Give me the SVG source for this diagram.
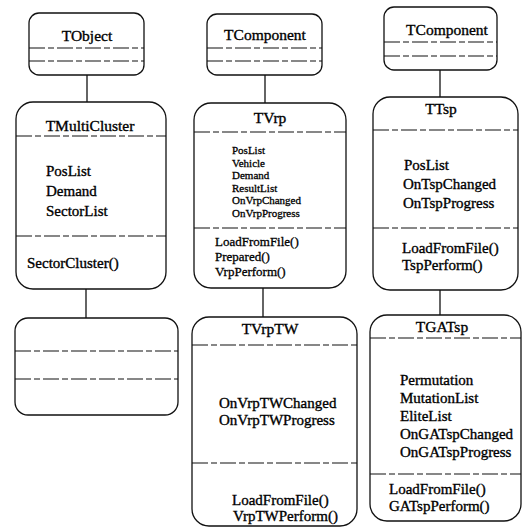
<svg xmlns="http://www.w3.org/2000/svg" width="527" height="529" viewBox="0 0 527 529">
  <style>
    .box { fill: #fff; stroke: #111; stroke-width: 1.3; }
    .sep { stroke: #111; stroke-width: 1.2; stroke-dasharray: 16 3 6 3; fill: none; }
    .link { stroke: #111; stroke-width: 1.3; fill: none; }
    text { font-family: "Liberation Serif", "Times New Roman", serif; fill: #000; stroke: #000; stroke-width: 0.35; }
    .title { font-size: 15.5px; text-anchor: middle; }
    .m { font-size: 15px; }
    .s { font-size: 11px; stroke-width: 0.3; }
    .f { font-size: 13px; stroke-width: 0.3; }
  </style>
  <rect width="527" height="529" fill="#fff"/>

  <!-- inheritance links -->
  <g id="connectors">
    <line class="link" x1="87" y1="75" x2="87" y2="102"/>
    <line class="link" x1="86" y1="289" x2="86" y2="318"/>
    <line class="link" x1="265" y1="75" x2="265" y2="103"/>
    <line class="link" x1="263" y1="288" x2="263" y2="317"/>
    <line class="link" x1="440" y1="70" x2="440" y2="97"/>
    <line class="link" x1="440" y1="290" x2="440" y2="315"/>
  </g>

  <!-- left column -->
  <g id="TObject">
    <rect class="box" x="29" y="13" width="115" height="62" rx="10"/>
    <line class="sep" x1="29" y1="48" x2="144" y2="48"/>
    <line class="sep" x1="29" y1="61" x2="144" y2="61"/>
    <text class="title" x="87" y="41">TObject</text>
  </g>

  <g id="TMultiCluster">
    <rect class="box" x="16" y="102" width="150" height="187" rx="17"/>
    <line class="sep" x1="16" y1="136" x2="166" y2="136"/>
    <line class="sep" x1="16" y1="236" x2="166" y2="236"/>
    <text class="title" x="90" y="131">TMultiCluster</text>
    <text class="m" x="46" y="176">PosList</text>
    <text class="m" x="46" y="196">Demand</text>
    <text class="m" x="46" y="216">SectorList</text>
    <text class="m" x="27" y="268">SectorCluster()</text>
  </g>

  <g id="TDerivedCluster">
    <rect class="box" x="15" y="318" width="163" height="97" rx="13"/>
    <line class="sep" x1="15" y1="351" x2="178" y2="351"/>
    <line class="sep" x1="15" y1="379" x2="178" y2="379"/>
  </g>

  <!-- middle column -->
  <g id="TComponent1">
    <rect class="box" x="207" y="14" width="115" height="61" rx="10"/>
    <line class="sep" x1="207" y1="48" x2="322" y2="48"/>
    <line class="sep" x1="207" y1="61" x2="322" y2="61"/>
    <text class="title" x="265" y="40">TComponent</text>
  </g>

  <g id="TVrp">
    <rect class="box" x="194" y="103" width="152" height="185" rx="17"/>
    <line class="sep" x1="194" y1="132" x2="346" y2="132"/>
    <line class="sep" x1="194" y1="228" x2="346" y2="228"/>
    <text class="title" x="270" y="123">TVrp</text>
    <text class="s" x="232" y="154">PosList</text>
    <text class="s" x="232" y="167">Vehicle</text>
    <text class="s" x="232" y="179">Demand</text>
    <text class="s" x="232" y="192">ResultList</text>
    <text class="s" x="232" y="204">OnVrpChanged</text>
    <text class="s" x="232" y="217">OnVrpProgress</text>
    <text class="f" x="215" y="246">LoadFromFile()</text>
    <text class="f" x="215" y="261">Prepared()</text>
    <text class="f" x="215" y="276">VrpPerform()</text>
  </g>

  <g id="TVrpTW">
    <rect class="box" x="192" y="317" width="165" height="209" rx="17"/>
    <line class="sep" x1="192" y1="345" x2="357" y2="345"/>
    <line class="sep" x1="192" y1="463" x2="357" y2="463"/>
    <text class="title" x="270" y="334">TVrpTW</text>
    <text class="m" x="219" y="408">OnVrpTWChanged</text>
    <text class="m" x="219" y="425">OnVrpTWProgress</text>
    <text class="m" x="232" y="505">LoadFromFile()</text>
    <text class="m" x="233" y="521">VrpTWPerform()</text>
  </g>

  <!-- right column -->
  <g id="TComponent2">
    <rect class="box" x="384" y="7" width="113" height="63" rx="10"/>
    <line class="sep" x1="384" y1="42" x2="497" y2="42"/>
    <line class="sep" x1="384" y1="56" x2="497" y2="56"/>
    <text class="title" x="447" y="35">TComponent</text>
  </g>

  <g id="TTsp">
    <rect class="box" x="373" y="97" width="145" height="193" rx="17"/>
    <line class="sep" x1="373" y1="130" x2="518" y2="130"/>
    <line class="sep" x1="373" y1="228" x2="518" y2="228"/>
    <text class="title" x="441" y="114">TTsp</text>
    <text class="m" x="404" y="170">PosList</text>
    <text class="m" x="403" y="189">OnTspChanged</text>
    <text class="m" x="403" y="208">OnTspProgress</text>
    <text class="m" x="402" y="253">LoadFromFile()</text>
    <text class="m" x="402" y="270">TspPerform()</text>
  </g>

  <g id="TGATsp">
    <rect class="box" x="370" y="315" width="151" height="206" rx="17"/>
    <line class="sep" x1="370" y1="338" x2="521" y2="338"/>
    <line class="sep" x1="370" y1="474" x2="521" y2="474"/>
    <text class="title" x="442" y="332">TGATsp</text>
    <text class="m" x="400" y="385">Permutation</text>
    <text class="m" x="400" y="403">MutationList</text>
    <text class="m" x="400" y="421">EliteList</text>
    <text class="m" x="400" y="439">OnGATspChanged</text>
    <text class="m" x="400" y="457">OnGATspProgress</text>
    <text class="m" x="389" y="494">LoadFromFile()</text>
    <text class="m" x="389" y="511">GATspPerform()</text>
  </g>
</svg>
